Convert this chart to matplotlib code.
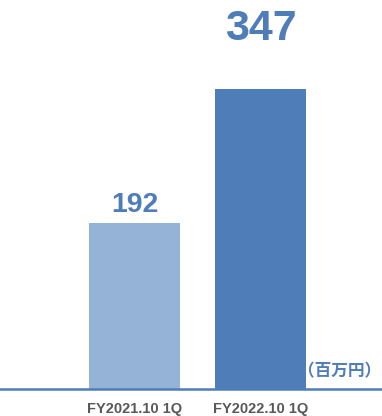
import matplotlib
matplotlib.use("Agg")
import matplotlib.pyplot as plt

# データ
periods = ["FY2021.10 1Q", "FY2022.10 1Q"]
values = [192, 347]
bar_colors = ["#95B3D7", "#4F7DB8"]
label_sizes = [20.5, 31]
label_offsets = [12.5, 57]

fig = plt.figure(figsize=(3.82, 4.16), dpi=100)
ax = fig.add_axes([0, 27 / 416, 1, 389 / 416])

x = list(range(len(periods)))
ax.bar(x, values, width=0.72, color=bar_colors, zorder=2)

for xi, v, fs, off in zip(x, values, label_sizes, label_offsets):
    ax.text(xi, v + off, str(v), ha="center", va="baseline", fontsize=fs,
            fontweight="bold", color="#4F7DB8", family="Liberation Sans")

ax.set_xlim(-1.067, 1.964)
ax.set_ylim(0, 450)

for s in ["top", "right", "left"]:
    ax.spines[s].set_visible(False)
ax.spines["bottom"].set_color("#4F7DB8")
ax.spines["bottom"].set_linewidth(1.8)

ax.set_yticks([])
ax.set_xticks(x)
ax.set_xticklabels(periods, fontsize=10.5, fontweight="bold", color="#595959",
                   family="Liberation Sans")
ax.tick_params(axis="x", length=0, pad=9)

ax.text(0.998, 20, "（百万円）", transform=ax.get_yaxis_transform(), ha="right",
        va="center", fontsize=12, fontweight="bold", color="#4F7DB8",
        family=["Noto Sans CJK JP", "DejaVu Sans"])

fig.savefig("out.png", dpi=100)
